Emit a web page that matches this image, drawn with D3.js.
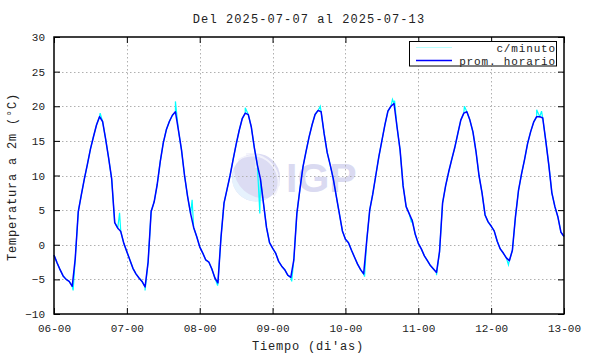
<!DOCTYPE html>
<html>
<head>
<meta charset="utf-8">
<script src="https://cdn.jsdelivr.net/npm/d3@7"></script>
<style>
  html, body { margin: 0; padding: 0; background: #fff; }
  svg { display: block; }
  text { font-family: "Liberation Mono", "DejaVu Sans Mono", monospace; fill: #222; }
</style>
</head>
<body>
<svg id="chart" width="590" height="354"></svg>
<script>
// ---------- data ----------
const titleText = "Del 2025-07-07 al 2025-07-13";
const xLabel = "Tiempo (di'as)";
const yLabel = "Temperatura a 2m (°C)";
const xTickLabels = ["06-00", "07-00", "08-00", "09-00", "10-00", "11-00", "12-00", "13-00"];
const yTicks = [-10, -5, 0, 5, 10, 15, 20, 25, 30];
const seriesNames = ["c/minuto", "prom. horario"];

// hourly averages, one array per day (hours 00..23)
const day06 = [-1.5, -2.6, -3.6, -4.5, -5.0, -5.3, -6.0, -2.0, 4.8, 7.2, 9.5, 11.6, 13.8, 15.6, 17.3, 18.5, 17.8, 15.3, 12.5, 9.5, 3.2, 2.4, 1.9, 0.2];
const day07 = [-1.0, -2.2, -3.4, -4.2, -4.8, -5.3, -6.1, -2.5, 4.8, 6.2, 8.7, 12.0, 14.7, 16.6, 17.8, 18.7, 19.2, 16.5, 13.7, 10.0, 7.0, 4.5, 2.5, 1.2];
const day08 = [-0.3, -1.2, -2.2, -2.5, -3.5, -4.8, -5.5, 1.0, 6.0, 8.0, 10.0, 12.3, 14.5, 16.5, 18.2, 19.0, 18.8, 17.0, 14.0, 11.5, 9.5, 6.0, 2.5, 0.3];
const day09 = [-0.5, -1.2, -2.4, -3.1, -3.6, -4.4, -4.7, -2.2, 4.5, 8.0, 11.2, 13.4, 15.5, 17.3, 18.8, 19.4, 19.2, 16.0, 13.3, 11.5, 9.5, 7.0, 4.5, 2.0];
const day10 = [0.8, 0.3, -0.8, -1.8, -2.8, -3.6, -4.2, 0.5, 5.0, 7.3, 10.0, 12.7, 15.0, 17.3, 19.3, 20.0, 20.4, 17.0, 13.7, 8.5, 5.5, 4.5, 3.5, 1.5];
const day11 = [0.2, -0.6, -1.6, -2.3, -3.0, -3.5, -4.0, -1.0, 6.0, 8.5, 10.5, 12.3, 14.0, 16.0, 18.0, 19.0, 19.2, 18.0, 16.3, 13.5, 10.0, 7.5, 4.3, 3.3];
const day12 = [2.7, 2.0, 0.5, -0.6, -1.2, -1.9, -2.3, -0.8, 4.0, 7.8, 10.2, 12.3, 14.6, 16.3, 17.7, 18.5, 18.5, 18.3, 15.0, 11.5, 7.5, 5.5, 4.0, 1.8];
const day13start = [1.2];

// per-minute excursions visible beyond the hourly line: [hour since 06-00, value]
const minuteExcursions = [
  [6.3, -6.6], [15.2, 19.0], [21.6, 4.6],
  [30.0, -6.6], [40.0, 20.7], [45.5, 6.5],
  [53.9, -5.9], [63.0, 19.8], [67.8, 4.5],
  [78.3, -5.3], [87.7, 20.0],
  [102.3, -4.6], [111.5, 21.0], [112.2, 20.8], [117.7, 3.3],
  [126.0, -4.4], [135.2, 20.0],
  [149.7, -2.9], [159.0, 19.5], [160.6, 19.3]
];

// ---------- build ----------
const hourly = [].concat(day06, day07, day08, day09, day10, day11, day12, day13start)
  .map((v, i) => ({ t: i, v: v }));
const minute = hourly.concat(minuteExcursions.map(d => ({ t: d[0], v: d[1] })))
  .sort((a, b) => a.t - b.t);

const svg = d3.select("#chart");
const L = 54, R = 564, T = 37, B = 314;
const x = d3.scaleLinear().domain([0, 168]).range([L, R]);
const y = d3.scaleLinear().domain([-10, 30]).range([B, T]);
const xTickVals = d3.range(0, 169, 24);

// watermark logo
const logo = svg.append("g").attr("class", "logo");
logo.append("circle").attr("cx", 256).attr("cy", 177.5).attr("r", 24).attr("fill", "#dcdcf3");
logo.append("path")
  .attr("d", "M232,180 A24,24 0 0 0 268,198 A30,30 0 0 1 234,168 Z")
  .attr("fill", "#e6f2fd");
logo.append("path").attr("d", "M238,160 A26,26 0 0 1 274,196").attr("fill", "none").attr("stroke", "#f2f2fb").attr("stroke-width", 1.5);
logo.append("path").attr("d", "M246,154 A30,30 0 0 1 279,186").attr("fill", "none").attr("stroke", "#f2f2fb").attr("stroke-width", 1.5);
logo.append("line").attr("x1", 256).attr("y1", 154).attr("x2", 256).attr("y2", 168).attr("stroke", "#f2f2fb").attr("stroke-width", 1.5);
logo.append("text").attr("x", 286).attr("y", 192)
  .style("font-family", "'Liberation Sans', Arial, sans-serif")
  .style("font-weight", "bold").style("font-size", "41px").style("fill", "#dadaf1")
  .text("IGP");

// grid
const grid = svg.append("g").attr("stroke", "#b0b0b0").attr("stroke-width", 1).attr("stroke-dasharray", "1.5,2.5");
grid.selectAll("line.gx").data(xTickVals.slice(1, -1)).join("line")
  .attr("x1", d => Math.round(x(d)) + 0.5).attr("x2", d => Math.round(x(d)) + 0.5)
  .attr("y1", T).attr("y2", B);
grid.selectAll("line.gy").data(yTicks.slice(1, -1)).join("line")
  .attr("y1", d => Math.round(y(d)) + 0.5).attr("y2", d => Math.round(y(d)) + 0.5)
  .attr("x1", L).attr("x2", R);

// lines
const line = d3.line().x(d => x(d.t)).y(d => y(d.v));
svg.append("path").datum(minute).attr("d", line)
  .attr("fill", "none").attr("stroke", "#00ffff").attr("stroke-width", 1.2);
svg.append("path").datum(hourly).attr("d", line)
  .attr("fill", "none").attr("stroke", "#0000ff").attr("stroke-width", 1.5)
  .attr("stroke-linejoin", "round");

// axes (inward ticks on all four sides)
const styleAxis = g => {
  g.select(".domain").remove();
  g.selectAll(".tick line").attr("stroke", "#000").attr("stroke-width", 1);
  g.selectAll(".tick text").style("font-family", "'Liberation Mono', monospace")
    .style("font-size", "11px").attr("fill", "#3a3a3a");
};
svg.append("g").attr("transform", `translate(0,${B})`)
  .call(d3.axisBottom(x).tickValues(xTickVals).tickFormat((d, i) => xTickLabels[i]).tickSize(-6).tickPadding(10))
  .call(styleAxis);
svg.append("g").attr("transform", `translate(0,${T})`)
  .call(d3.axisTop(x).tickValues(xTickVals).tickFormat("").tickSize(-6))
  .call(styleAxis);
svg.append("g").attr("transform", `translate(${L},0)`)
  .call(d3.axisLeft(y).tickValues(yTicks).tickFormat(d3.format("d")).tickSize(-6).tickPadding(9))
  .call(styleAxis);
svg.append("g").attr("transform", `translate(${R},0)`)
  .call(d3.axisRight(y).tickValues(yTicks).tickFormat("").tickSize(-6))
  .call(styleAxis);

// frame
svg.append("rect").attr("x", L).attr("y", T).attr("width", R - L).attr("height", B - T)
  .attr("fill", "none").attr("stroke", "#000").attr("stroke-width", 1.5);

// legend
const lg = svg.append("g");
lg.append("rect").attr("x", 409.5).attr("y", 41.5).attr("width", 147).attr("height", 24.5)
  .attr("fill", "#fff").attr("stroke", "#000").attr("stroke-width", 1);
const legendColors = ["#00ffff", "#0000ff"];
seriesNames.forEach((name, i) => {
  const yy = 47.5 + i * 13;
  lg.append("line").attr("x1", 416).attr("x2", 452).attr("y1", yy).attr("y2", yy)
    .attr("stroke", legendColors[i]).attr("stroke-width", i === 0 ? 0.8 : 1.3)
    .attr("stroke-opacity", i === 0 ? 0.35 : 1);
  lg.append("text").attr("x", 556).attr("y", yy + 4).attr("text-anchor", "end")
    .style("font-size", "11px").style("letter-spacing", "0.85px").attr("fill", "#3a3a3a").text(name);
});

// title and axis labels
svg.append("text").attr("x", 309).attr("y", 23).attr("text-anchor", "middle")
  .style("font-size", "12px").style("letter-spacing", "1.1px").attr("fill", "#3a3a3a").text(titleText);
svg.append("text").attr("x", 308).attr("y", 350).attr("text-anchor", "middle")
  .style("font-size", "12px").style("letter-spacing", "0.8px").attr("fill", "#3a3a3a").text(xLabel);
svg.append("text").attr("transform", "translate(16,177) rotate(-90)").attr("text-anchor", "middle")
  .style("font-size", "12px").style("letter-spacing", "0.8px").attr("fill", "#3a3a3a").text(yLabel);
</script>
</body>
</html>
